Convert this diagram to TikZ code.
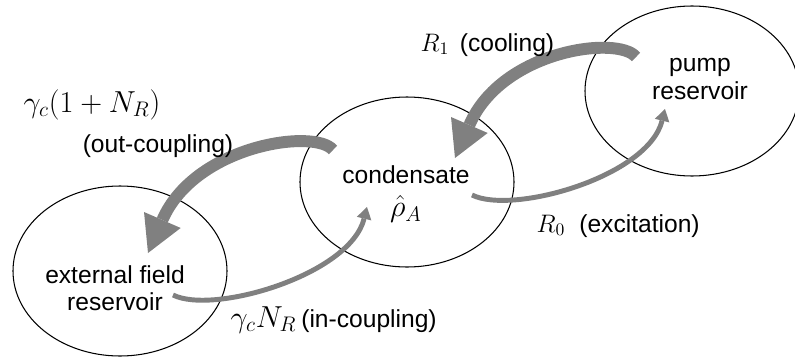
\documentclass[tikz,border=0pt]{standalone}
\usepackage{fontspec}
\setmainfont{Liberation Sans}
\usepackage{tikz}
\usetikzlibrary{arrows.meta,shapes.geometric}

\begin{document}
\begin{tikzpicture}[
  res/.style={ellipse,draw,line width=0.6pt,minimum width=4.28cm,minimum height=3.4cm,inner sep=0pt},
  lbl/.style={font=\fontsize{14}{15.5}\selectfont,align=center,inner sep=0pt},
  rate/.style={font=\fontsize{14}{15.5}\selectfont,inner sep=0pt,anchor=base},
  bigrate/.style={font=\fontsize{17}{19}\selectfont,inner sep=0pt,anchor=base},
  bigflow/.style={gray,line width=6.8pt,-{Triangle[width=0.8cm,length=0.72cm,line width=0pt]}},
  smallflow/.style={gray,line width=2.8pt,-{Triangle[width=0.3cm,length=0.24cm,line width=0pt]}}
]
\useasboundingbox (0,0) rectangle (15.9,7.12);

% the three reservoirs (left to right, rising)
\node[res] (ext)  at (2.40,1.70) {};
\node[res] (cond) at (8.14,3.48) {};
\node[res] (pump) at (13.84,5.30) {};

% names inside the ellipses
\node[lbl] (extL)  at (2.30,1.36) {external field\\ reservoir};
\node[rate] (condL) at (8.12,3.46) {condensate};
\node[bigrate] (rhoL) at (8.12,2.79) {$\hat{\rho}_A$};
\node[lbl] (pumpL) at (14.00,5.54) {pump\\ reservoir};

% end points of the four flows
\coordinate (outS)  at (6.66,4.12);   % condensate -> external field
\coordinate (outE)  at (2.96,2.06);
\coordinate (coolS) at (12.72,5.98);  % pump -> condensate
\coordinate (coolE) at (9.10,3.96);
\coordinate (inS)   at (3.46,1.22);   % external field -> condensate
\coordinate (inE)   at (7.34,2.98);
\coordinate (excS)  at (9.44,3.22);   % condensate -> pump
\coordinate (excE)  at (13.30,4.94);

% thick flows
\draw[bigflow] (outS) .. controls +(-0.36,0.44) and +(0.94,2.16) .. (outE);
\draw[bigflow] (coolS) .. controls +(-0.36,0.44) and +(0.94,2.16) .. (coolE);

% thin flows
\draw[smallflow] (inS) .. controls +(0.8,-0.4) and +(-0.34,-1.36) .. (inE);
\draw[smallflow] (excS) .. controls +(0.8,-0.4) and +(-0.34,-1.36) .. (excE);

% rates and their names
\node[bigrate] (outR) at (1.84,4.88) {$\gamma_c(1+N_R)$};
\node[rate] (outN)  at (3.16,4.08) {(out-coupling)};
\node[rate] (coolR) at (8.70,6.10) {$R_1$};
\node[rate] (coolN) at (10.14,6.10) {(cooling)};
\node[rate] (excR)  at (11.02,2.48) {$R_0$};
\node[rate] (excN)  at (12.79,2.48) {(excitation)};
\node[bigrate] (inR) at (5.27,0.58) {$\gamma_c N_R$};
\node[rate] (inN)   at (7.38,0.58) {(in-coupling)};

\end{tikzpicture}
\end{document}
